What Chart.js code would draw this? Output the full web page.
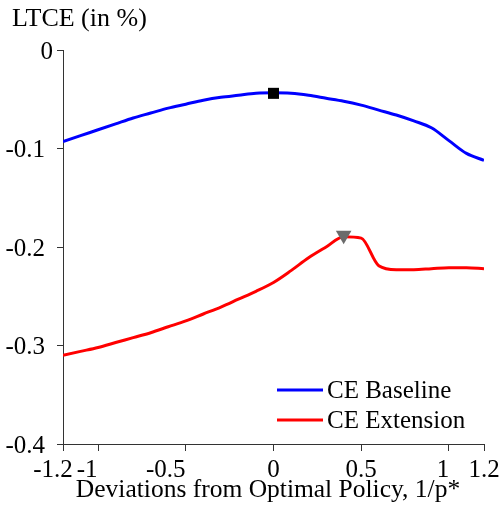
<!DOCTYPE html>
<html lang="en">
<head>
    <meta charset="UTF-8">
    <title>LTCE</title>
    <script src="https://cdn.jsdelivr.net/npm/chart.js"></script>
    <style>
        body { margin: 0; background: #fff; }
        #wrap { width: 502px; height: 508px; }
    </style>
</head>
<body>
    <div id="wrap"><canvas id="ltceChart"></canvas></div>

    <script>
        // x values (1/p* deviation), 0.1 steps
        const xs = [-1.2, -1.1, -1.0, -0.9, -0.8, -0.7, -0.6, -0.5, -0.4, -0.3, -0.2, -0.1, 0,
                    0.1, 0.2, 0.3, 0.4, 0.5, 0.6, 0.7, 0.8, 0.9, 1.0, 1.1, 1.2];
        const baseline = [-0.093, -0.087, -0.081, -0.075, -0.069, -0.064, -0.059, -0.055, -0.051, -0.048, -0.046, -0.044, -0.0435,
                          -0.044, -0.046, -0.049, -0.052, -0.056, -0.061, -0.066, -0.072, -0.079, -0.092, -0.105, -0.112];
        const extension = [-0.310, -0.306, -0.302, -0.297, -0.292, -0.287, -0.281, -0.275, -0.268, -0.261, -0.253, -0.245, -0.236,
                           -0.224, -0.211, -0.200, -0.1895, -0.191, -0.219, -0.223, -0.223, -0.222, -0.221, -0.221, -0.222];
        // optimum markers
        const baselineOpt = { x: 0, y: -0.044 };
        const extensionOpt = { x: 0.4, y: -0.188 };
        const xTicks = [-1.2, -1, -0.5, 0, 0.5, 1, 1.2];
        const yTicks = [0, -0.1, -0.2, -0.3, -0.4];

        const serif = 'Liberation Serif';

        const pts = arr => arr.map((v, i) => ({ x: xs[i], y: v }));
        const fmt = v => (v === 0 ? '0' : String(v));

        // label nudges, as in the original figure
        const xShift = { '-1.2': -10, '-1': -11, '-0.5': -20, '1': -6 };

        // tick labels, axis titles
        const labels = {
            id: 'labels',
            afterDraw(chart) {
                const ctx = chart.ctx;
                const sx = chart.scales.x, sy = chart.scales.y;
                ctx.save();
                ctx.fillStyle = '#000';
                ctx.font = '25px "' + serif + '"';
                ctx.textBaseline = 'alphabetic';

                ctx.textAlign = 'center';
                xTicks.forEach(v => {
                    const t = fmt(v);
                    ctx.fillText(t, sx.getPixelForValue(v) + (xShift[t] || 0), 477);
                });

                ctx.textAlign = 'right';
                yTicks.forEach(v => {
                    const t = fmt(v);
                    const x = v === 0 ? sy.right - 10 : sy.right - 18;
                    ctx.fillText(t, x, sy.getPixelForValue(v) + 8.5);
                });

                ctx.font = '26px "' + serif + '"';
                ctx.textAlign = 'left';
                ctx.fillText('LTCE (in %)', 12, 26);

                ctx.font = '25.5px "' + serif + '"';
                ctx.textAlign = 'center';
                ctx.fillText('Deviations from Optimal Policy, 1/p*', 268, 497);
                ctx.restore();
            }
        };

        // legend inside plot, bottom right
        const innerLegend = {
            id: 'innerLegend',
            afterDraw(chart) {
                const ctx = chart.ctx;
                const a = chart.chartArea;
                const items = chart.data.datasets.filter(d => d.inLegend);
                ctx.save();
                ctx.font = '25px "' + serif + '"';
                ctx.textBaseline = 'middle';
                items.forEach((d, i) => {
                    const y = a.bottom - 54 + i * 30;
                    const x0 = a.right - 207;
                    ctx.strokeStyle = d.borderColor;
                    ctx.lineWidth = 3;
                    ctx.beginPath();
                    ctx.moveTo(x0, y);
                    ctx.lineTo(x0 + 46, y);
                    ctx.stroke();
                    ctx.fillStyle = '#000';
                    ctx.fillText(d.label, x0 + 50, y + 1);
                });
                ctx.restore();
            }
        };

        new Chart(document.getElementById('ltceChart'), {
            type: 'line',
            data: {
                datasets: [
                    {
                        label: 'opt baseline',
                        data: [baselineOpt],
                        showLine: false,
                        pointStyle: 'rect',
                        pointRadius: 7.8,
                        backgroundColor: '#000',
                        borderColor: '#000',
                        borderWidth: 0,
                        order: 0
                    },
                    {
                        label: 'opt extension',
                        data: [extensionOpt],
                        showLine: false,
                        pointStyle: 'triangle',
                        rotation: 180,
                        pointRadius: 9,
                        backgroundColor: '#6b6b6b',
                        borderColor: '#6b6b6b',
                        borderWidth: 0,
                        order: 0
                    },
                    {
                        label: 'CE Baseline',
                        inLegend: true,
                        data: pts(baseline),
                        borderColor: '#0000ff',
                        borderWidth: 3,
                        pointRadius: 0,
                        cubicInterpolationMode: 'monotone',
                        order: 1
                    },
                    {
                        label: 'CE Extension',
                        inLegend: true,
                        data: pts(extension),
                        borderColor: '#ff0000',
                        borderWidth: 3,
                        pointRadius: 0,
                        cubicInterpolationMode: 'monotone',
                        order: 1
                    }
                ]
            },
            options: {
                responsive: true,
                maintainAspectRatio: false,
                animation: false,
                layout: { padding: { top: 50, right: 18, left: 0, bottom: 0 } },
                plugins: {
                    legend: { display: false },
                    tooltip: { enabled: false }
                },
                scales: {
                    x: {
                        type: 'linear',
                        min: -1.2,
                        max: 1.2,
                        afterBuildTicks: s => { s.ticks = xTicks.map(v => ({ value: v })); },
                        afterFit: s => { s.height = 64; },
                        ticks: { display: false },
                        grid: { drawOnChartArea: false, drawTicks: true, tickLength: 7, color: '#333' },
                        border: { color: '#333', width: 1 }
                    },
                    y: {
                        min: -0.4,
                        max: 0,
                        afterBuildTicks: s => { s.ticks = yTicks.map(v => ({ value: v })); },
                        afterFit: s => { s.width = 63; },
                        ticks: { display: false },
                        grid: { drawOnChartArea: false, drawTicks: true, tickLength: 6, color: '#333' },
                        border: { color: '#333', width: 1 }
                    }
                }
            },
            plugins: [labels, innerLegend]
        });
    </script>
</body>
</html>
